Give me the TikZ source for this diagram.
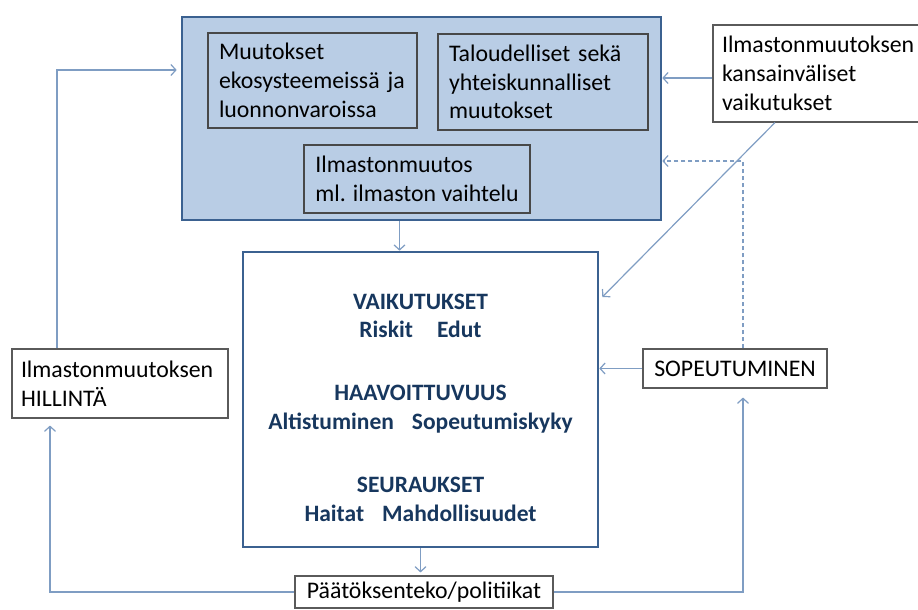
\documentclass[tikz,border=0pt]{standalone}
\usepackage{fontspec}
\setmainfont{Carlito}
\usetikzlibrary{arrows.meta}
\definecolor{sysfill}{HTML}{B9CDE5}
\definecolor{sysline}{HTML}{3B6190}
\definecolor{linkblue}{HTML}{7F9DC3}
\definecolor{navy}{HTML}{17375E}
\definecolor{boxgray}{HTML}{5A5A5A}
\begin{document}
\begin{tikzpicture}[x=1pt,y=-1pt,
  txt/.style={font=\fontsize{23.8}{28.8}\selectfont},
  sysbox/.style={draw=sysline,line width=2.6pt,fill=sysfill},
  inbox/.style={txt,draw=boxgray!80!black,line width=1.1pt,align=left,inner xsep=11pt},
  sidebox/.style={txt,draw=boxgray,line width=1.1pt,fill=white,align=left,inner xsep=9pt},
  link/.style={draw=linkblue,line width=1.2pt,-{Straight Barb[length=5pt,width=11pt]}}]
\useasboundingbox (0,0) rectangle (918,610);

% upper block
\node[sysbox,minimum width=479,minimum height=203] (sys) at (421.5,118.5) {};
\node[inbox,text width=187,minimum height=95] (eco) at (312.5,80.5)
  {Muutokset\\ekosysteemeissä ja\\luonnonvaroissa};
\node[inbox,text width=188,minimum height=96] (econ) at (543,82)
  {Taloudelliset sekä\\yhteiskunnalliset\\muutokset};
\node[inbox,minimum width=226,minimum height=68] (clim) at (417,179)
  {Ilmastonmuutos\\ml. ilmaston vaihtelu};

% middle block
\node[draw=sysline,line width=2.6pt,minimum width=355,minimum height=295] (impacts) at (420.5,399.5) {};
\node[font=\fontsize{23.5}{28.8}\selectfont\bfseries,text=navy,align=center] (imptext) at (420.5,407.5)
  {VAIKUTUKSET\\Riskit\hspace{24pt}Edut\\[34pt]
   HAAVOITTUVUUS\\Altistuminen\hspace{18pt}Sopeutumiskyky\\[34pt]
   SEURAUKSET\\Haitat\hspace{18pt}Mahdollisuudet};

% side boxes
\node[sidebox,text width=194,minimum height=97] (intl) at (819,73.5)
  {Ilmastonmuutoksen\\kansainväliset\\vaikutukset};
\node[sidebox,text width=198,minimum height=69] (mitig) at (120,383.5)
  {Ilmastonmuutoksen\\HILLINTÄ};
\node[sidebox,align=center,minimum width=184,minimum height=39] (adapt) at (735,368.5) {SOPEUTUMINEN};
\node[sidebox,align=center,minimum width=258,minimum height=32,inner ysep=2pt] (policy) at (424,592)
  {Päätöksenteko/politiikat};

% connectors
\draw[link,shorten >=4pt] ([xshift=-63pt]mitig.north) |- ([yshift=48.5pt]sys.west);
\draw[link] ([yshift=-4.5pt]intl.west) -- ([yshift=-4.5pt]intl.west -| sys.east);
\draw[link,dashed,dash pattern=on 4pt off 3pt] ([xshift=8pt]adapt.north) |- ([yshift=-42.5pt]sys.east);
\draw[link] ([xshift=-44pt]intl.south) -- ([xshift=3pt,yshift=102.5pt]impacts.east);
\draw[link] (adapt.west) -- (adapt.west -| impacts.east);
\draw[link] ([xshift=-22pt]sys.south) -- ([xshift=-22pt]sys.south |- impacts.north);
\draw[link,shorten >=3pt] (impacts.south) -- (impacts.south |- policy.north);
\draw[link] (policy.west) -| ([xshift=-70pt,yshift=-7pt]mitig.south);
\draw[link] (policy.east) -| ([xshift=8pt,yshift=-9pt]adapt.south);
\end{tikzpicture}
\end{document}
